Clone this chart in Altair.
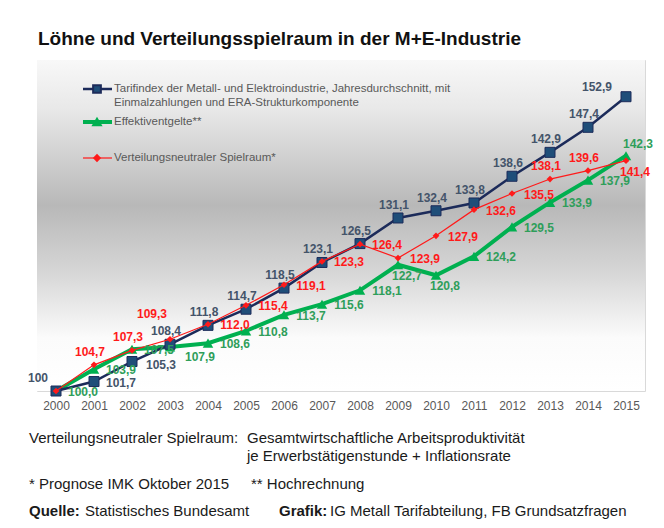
import altair as alt
import pandas as pd

# ---------------- data ----------------
years = list(range(2000, 2016))
tarif = [100.0, 101.7, 105.3, 108.4, 111.8, 114.7, 118.5, 123.1, 126.5,
         131.1, 132.4, 133.8, 138.6, 142.9, 147.4, 152.9]
effektiv = [100.0, 103.9, 107.5, 107.9, 108.6, 110.8, 113.7, 115.6, 118.1,
            122.7, 120.8, 124.2, 129.5, 133.9, 137.9, 142.3]
spielraum = [100.0, 104.7, 107.3, 109.3, 112.0, 115.4, 119.1, 123.3, 126.4,
             123.9, 127.9, 132.6, 135.5, 138.1, 139.6, 141.4]

series_names = [
    "Tarifindex der Metall- und Elektroindustrie, Jahresdurchschnitt, mit",
    "Effektiventgelte**",
    "Verteilungsneutraler Spielraum*",
]
legend_second_line = "Einmalzahlungen und ERA-Strukturkomponente"

title_text = "Löhne und Verteilungsspielraum in der M+E-Industrie"
notes_line1_left = "Verteilungsneutraler  Spielraum:"
notes_line1_right = "Gesamtwirtschaftliche Arbeitsproduktivität"
notes_line2 = "je Erwerbstätigenstunde + Inflationsrate"
notes_line3_left = "* Prognose IMK  Oktober 2015"
notes_line3_right = "** Hochrechnung"
source_label = "Quelle:"
source_text = "Statistisches Bundesamt"
graphic_label = "Grafik:"
graphic_text = "IG Metall  Tarifabteilung,  FB Grundsatzfragen"

# label placement codes (style, not data)
tarif_place = ["al", "r", "r2", "a", "a", "a", "a", "a", "a", "a", "a", "a", "a", "a", "a", "l"]
eff_place = ["r", "r", "r", "rb", "r", "r", "r", "r", "r", "br", "br", "r", "r", "r", "r", "ar"]
spiel_place = ["", "a", "a", "aa", "r", "r", "r", "r", "r", "r", "r", "r", "r", "a", "a", "br"]

OFFS = {
    "a": (-4, -13), "aa": (-18, -25), "al": (-18, -13), "r": (27, 1),
    "r2": (29, 3), "rb": (30, 10), "l": (-29, -10), "br": (9, 11), "ar": (12, -12),
}

W, H = 608, 331
NAVY = "#1c2b5a"
NAVY_FILL = "#1f4e79"
NAVY_LBL = "#44546a"
GREEN = "#00b050"
GREEN_LBL = "#2f9e5a"
RED = "#ff1a1a"
FONT = "Liberation Sans"


def fmt(v):
    return f"{v:.1f}".replace(".", ",")


def frame(vals, name, places, first_label=None):
    labels = [fmt(v) for v in vals]
    if first_label is not None:
        labels[0] = first_label
    return pd.DataFrame({"year": years, "value": vals, "series": name,
                         "label": labels, "place": places})


df_t = frame(tarif, "tarif", tarif_place, first_label="100")
df_e = frame(effektiv, "eff", eff_place)
df_s = frame(spielraum, "spiel", spiel_place)

xs = alt.X("year:Q", scale=alt.Scale(domain=[1999.5, 2015.5], nice=False, zero=False),
           axis=alt.Axis(values=years, format="d", title=None, ticks=False, domain=False,
                         grid=False, labelColor="#595959", labelFontSize=12, labelFont=FONT,
                         labelPadding=9))
ys = alt.Y("value:Q", scale=alt.Scale(domain=[100, 159.5], nice=False, zero=False), axis=None)

# background gradient
bg = alt.Chart(pd.DataFrame({"a": [0]})).mark_rect(
    fill=alt.Gradient(gradient="linear", x1=0, x2=0, y1=0, y2=1, stops=[
        alt.GradientStop(offset=0, color="#f8f8f8"),
        alt.GradientStop(offset=0.15, color="#e8e8e8"),
        alt.GradientStop(offset=0.44, color="#b8b8b8"),
        alt.GradientStop(offset=0.64, color="#d6d6d6"),
        alt.GradientStop(offset=0.84, color="#fbfbfb"),
        alt.GradientStop(offset=1, color="#ffffff"),
    ])
).encode(x=alt.value(0), x2=alt.value(W), y=alt.value(0), y2=alt.value(H))

line_e = alt.Chart(df_e).mark_line(color=GREEN, strokeWidth=4).encode(x=xs, y=ys)
pt_e = alt.Chart(df_e).mark_point(shape="triangle-up", filled=True, color=GREEN, size=110, opacity=1).encode(x=xs, y=ys)
line_t = alt.Chart(df_t).mark_line(color=NAVY, strokeWidth=2.5).encode(x=xs, y=ys)
pt_t = alt.Chart(df_t).mark_point(shape="square", filled=True, fill=NAVY_FILL, stroke=NAVY, strokeWidth=1,
                                  size=100, opacity=1).encode(x=xs, y=ys)
line_s = alt.Chart(df_s).mark_line(color=RED, strokeWidth=1.2).encode(x=xs, y=ys)
pt_s = alt.Chart(df_s).mark_point(shape="diamond", filled=True, color=RED, size=45, opacity=1).encode(x=xs, y=ys)


def labels(df, color):
    layers = []
    for code, (dx, dy) in OFFS.items():
        sub = df[df["place"] == code]
        if len(sub) == 0:
            continue
        layers.append(alt.Chart(sub).mark_text(
            dx=dx, dy=dy, color=color, font=FONT, fontSize=12, fontWeight="bold",
            align="center", baseline="middle").encode(x=xs, y=ys, text="label:N"))
    return layers


lab = labels(df_t, NAVY_LBL) + labels(df_e, GREEN_LBL) + labels(df_s, RED)

# ---- manual legend (inside plot area, pixel layout) ----
LX0, LX1, LMK, LTX = 46, 75, 60, 77
LROWS = [29, 62, 98]
one = pd.DataFrame({"a": [0]})


def legend_item(y, color, width, shape, size, fill):
    r = alt.Chart(one).mark_rule(color=color, strokeWidth=width).encode(
        x=alt.value(LX0), x2=alt.value(LX1), y=alt.value(y))
    p = alt.Chart(one).mark_point(shape=shape, filled=True, fill=fill, stroke=color,
                                  size=size, opacity=1).encode(x=alt.value(LMK), y=alt.value(y))
    return [r, p]


def txt(s, x, y, size=11.5, color="#595959", weight="normal", font=FONT):
    return alt.Chart(pd.DataFrame({"t": [s]})).mark_text(
        align="left", baseline="middle", fontSize=size, color=color, fontWeight=weight, font=font
    ).encode(x=alt.value(x), y=alt.value(y), text="t:N")


leg = []
leg += legend_item(LROWS[0], NAVY, 2.5, "square", 60, NAVY_FILL)
leg += legend_item(LROWS[1], GREEN, 4, "triangle-up", 60, GREEN)
leg += legend_item(LROWS[2], RED, 1.2, "diamond", 30, RED)
leg += [txt(series_names[0], LTX, LROWS[0]), txt(legend_second_line, LTX, LROWS[0] + 14),
        txt(series_names[1], LTX, LROWS[1]), txt(series_names[2], LTX, LROWS[2])]

# ---- notes below chart ----
NC = "#1a1a1a"
NS = 15
notes = [
    txt(notes_line1_left, -8, 378, NS, NC),
    txt(notes_line1_right, 210, 378, NS, NC),
    txt(notes_line2, 210, 396, NS, NC),
    txt(notes_line3_left, -8, 424, NS, NC),
    txt(notes_line3_right, 214, 424, NS, NC),
    txt(source_label, -8, 451, NS, NC, "bold"),
    txt(source_text, 48, 451, NS, NC),
    txt(graphic_label, 242, 451, NS, NC, "bold"),
    txt(graphic_text, 293, 451, NS, NC),
]

chart = alt.layer(
    bg, line_e, pt_e, line_t, pt_t, line_s, pt_s, *lab, *leg, *notes
).properties(
    width=W, height=H,
    title=alt.TitleParams(title_text, anchor="start", frame="group", fontSize=19, fontWeight="bold",
                          font=FONT, color="#111111", offset=14, baseline="alphabetic", dx=1, dy=18),
    autosize=alt.AutoSizeParams(type="none"),
    padding={"left": 29, "top": 52, "right": 11, "bottom": 129},
).configure_view(stroke="#d9d9d9", strokeWidth=1)

chart.save("out.html", embed_options={"renderer": "svg", "actions": False})
